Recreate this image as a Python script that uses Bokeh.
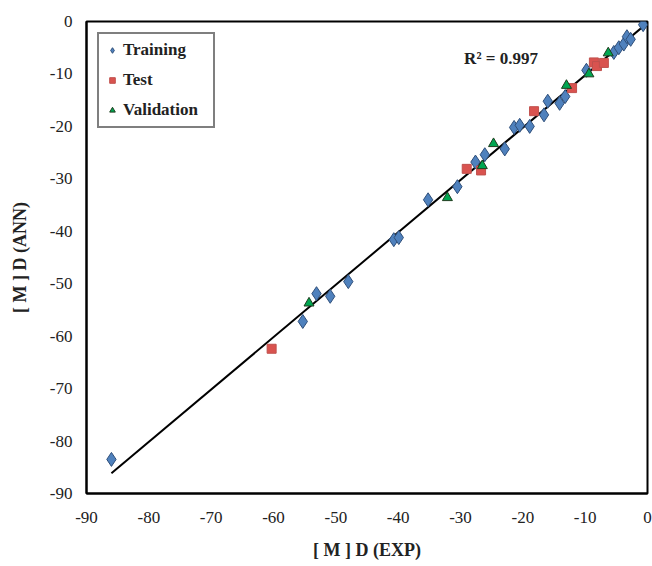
import numpy as np
from bokeh.plotting import figure
from bokeh.models import FixedTicker, Label, Legend, LegendItem
from bokeh.embed import file_html
from bokeh.resources import INLINE

train_x = [-86.0, -55.3, -53.1, -50.9, -48.0, -40.7, -39.9, -35.2, -30.5, -27.6, -26.1,
           -22.9, -21.4, -20.5, -18.9, -16.6, -16.0, -14.1, -13.2, -9.8, -5.4, -4.6,
           -3.8, -3.3, -2.7, -0.7]
train_y = [-83.5, -57.2, -51.9, -52.4, -49.6, -41.6, -41.2, -34.0, -31.5, -26.8, -25.4,
           -24.3, -20.2, -19.8, -20.0, -17.8, -15.2, -15.6, -14.3, -9.3, -5.9, -5.0,
           -4.3, -2.9, -3.4, -0.6]
test_x = [-60.3, -29.0, -26.7, -18.2, -12.1, -8.6, -8.1, -7.0]
test_y = [-62.4, -28.1, -28.4, -17.1, -12.7, -7.8, -8.5, -7.9]
val_x = [-54.3, -32.1, -26.5, -24.7, -13.0, -9.4, -6.3]
val_y = [-53.7, -33.6, -27.5, -23.3, -12.2, -10.0, -6.0]
ticks = [-90, -80, -70, -60, -50, -40, -30, -20, -10, 0]
tick_labels = {t: str(t) for t in ticks}
r2_text = "R\u00b2 = 0.997"

SERIF = "Liberation Serif"

p = figure(width=652, height=566, x_range=(-90, 0), y_range=(-90, 0),
           output_backend="svg", toolbar_location=None,
           min_border_left=86, min_border_right=5, min_border_top=21, min_border_bottom=73)
p.grid.visible = False
p.outline_line_color = "black"
p.outline_line_width = 2
p.background_fill_color = "white"
p.border_fill_color = "white"

for ax in (p.xaxis[0], p.yaxis[0]):
    ax.ticker = FixedTicker(ticks=ticks)
    ax.major_label_overrides = tick_labels
    ax.major_tick_line_color = None
    ax.minor_tick_line_color = None
    ax.axis_line_color = "black"
    ax.axis_line_width = 2
    ax.major_label_text_font = SERIF
    ax.major_label_text_font_size = "17px"
    ax.major_label_text_color = "#222222"
    ax.axis_label_text_font = SERIF
    ax.axis_label_text_font_style = "bold"
    ax.axis_label_text_font_size = "18px"
    ax.axis_label_text_color = "#222222"

p.xaxis.axis_label = "[ M ] D (EXP)"
p.yaxis.axis_label = "[ M ] D (ANN)"
p.xaxis.major_label_standoff = 12
p.yaxis.major_label_standoff = 8
p.xaxis.axis_label_standoff = 14
p.yaxis.axis_label_standoff = 17

# trendline fitted from all data
all_x = np.array(train_x + test_x + val_x)
all_y = np.array(train_y + test_y + val_y)
m, b = np.polyfit(all_x, all_y, 1)
lx = np.array([all_x.min(), 0.0])
p.line(lx, m * lx + b, line_color="black", line_width=2)

r_tr = p.scatter(train_x, train_y, marker="diamond", size=14, fill_color="#4F81BD",
                 line_color="#2F4F7A", line_width=1)
r_te = p.scatter(test_x, test_y, marker="square", size=9, fill_color="#D9534F",
                 line_color="#C0504D", line_width=1)
r_va = p.scatter(val_x, val_y, marker="triangle", size=10, fill_color="#00A651",
                 line_color="#1E3D1E", line_width=1)

legend = Legend(items=[LegendItem(label="Training", renderers=[r_tr]),
                       LegendItem(label="Test", renderers=[r_te]),
                       LegendItem(label="Validation", renderers=[r_va])],
                location=(11, 365))
legend.label_text_font = SERIF
legend.label_text_font_style = "bold"
legend.label_text_font_size = "17px"
legend.label_text_color = "#222222"
legend.border_line_color = "black"
legend.border_line_width = 2
legend.glyph_width = 14
legend.glyph_height = 14
legend.label_standoff = 4
legend.label_width = 84
legend.spacing = 10
legend.padding = 6
legend.margin = 0
legend.background_fill_alpha = 1
p.add_layout(legend, "center")

p.add_layout(Label(x=-23.5, y=-7.0, text=r2_text, text_font=SERIF, text_font_style="bold",
                   text_font_size="17px", text_color="#222222",
                   text_align="center", text_baseline="middle"))

open("out.html", "w").write(file_html(p, INLINE))
